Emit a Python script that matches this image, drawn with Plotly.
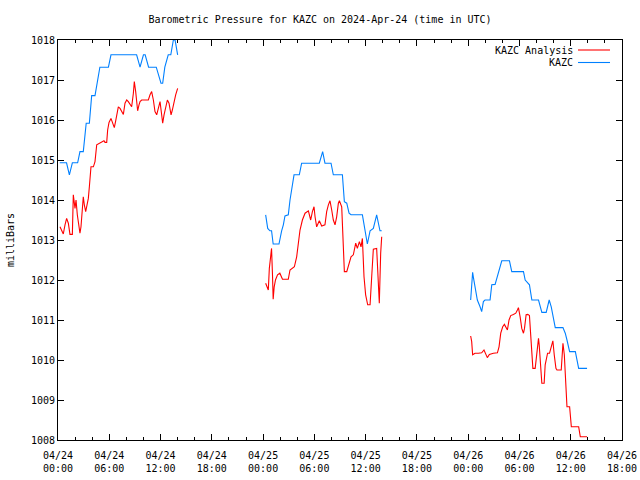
import pandas as pd
import plotly.graph_objects as go

BASE = "2024-04-24 00:00"

# Hours since 2024-04-24 00:00 UTC, pressure in milliBars
kazc_h_1 = [0.2, 1.0, 1.33, 1.68, 2.3, 2.57, 2.96, 3.15, 3.3, 3.67, 3.8, 3.94, 4.33, 4.6, 4.9, 5.9, 6.2,
            9.2, 9.6, 10.0, 10.2, 10.6, 11.5, 12.05, 12.25, 12.5, 12.9, 13.2, 13.5, 13.7, 14.0]
kazc_v_1 = [1014.93, 1014.93, 1014.63, 1014.93, 1014.93, 1015.21, 1015.21, 1015.56, 1015.92, 1015.92,
            1016.27, 1016.61, 1016.61, 1016.96, 1017.32, 1017.32, 1017.63, 1017.63, 1017.32, 1017.63,
            1017.63, 1017.32, 1017.32, 1016.92, 1016.92, 1017.32, 1017.63, 1017.63, 1018.0, 1018.0, 1017.63]

kazc_h_2 = [24.3, 24.54, 24.8, 24.99, 25.18, 25.86, 26.17, 26.37, 26.56, 26.95, 27.15, 27.42, 27.62, 28.24,
            28.51, 30.58, 30.97, 31.24, 31.95, 32.22, 33.28, 33.51, 33.79, 34.06, 34.29, 35.62, 35.93,
            36.2, 36.52, 36.9, 37.29, 37.68, 37.88]
kazc_v_2 = [1013.63, 1013.29, 1013.23, 1013.23, 1012.9, 1012.9, 1013.23, 1013.38, 1013.6, 1013.63,
            1014.0, 1014.33, 1014.63, 1014.63, 1014.92, 1014.92, 1015.21, 1014.92, 1014.92, 1014.63,
            1014.63, 1013.96, 1013.92, 1013.67, 1013.63, 1013.63, 1013.25, 1012.9, 1013.23, 1013.29,
            1013.63, 1013.23, 1013.23]

kazc_h_3 = [48.29, 48.41, 48.52, 48.6, 48.8, 49.07, 49.39, 49.58, 49.78, 49.97, 50.56, 50.76, 51.15,
            51.34, 51.54, 51.73, 51.93, 52.83, 53.1, 54.47, 54.67, 55.17, 55.45, 56.23, 56.42, 56.62,
            57.13, 57.29, 57.48, 57.72, 57.91, 58.19, 59.09, 59.36, 59.56, 59.87, 60.54, 60.73, 60.93, 61.91]
kazc_v_3 = [1011.5, 1012.0, 1012.19, 1012.08, 1011.83, 1011.5, 1011.33, 1011.21, 1011.46, 1011.5,
            1011.5, 1011.88, 1011.89, 1012.04, 1012.19, 1012.38, 1012.48, 1012.48, 1012.21, 1012.21,
            1012.0, 1011.88, 1011.5, 1011.5, 1011.33, 1011.19, 1011.19, 1011.38, 1011.5, 1011.33,
            1011.13, 1010.81, 1010.81, 1010.67, 1010.5, 1010.21, 1010.21, 1010.0, 1009.79, 1009.79]

anl_h_1 = [0.23, 0.43, 0.62, 0.82, 1.01, 1.21, 1.29, 1.40, 1.68, 1.79, 1.99, 2.11, 2.26, 2.46, 2.57,
           2.69, 2.85, 2.96, 3.08, 3.24, 3.35, 3.55, 3.67, 3.86, 4.14, 4.33, 4.53, 4.84, 5.11, 5.38,
           5.5, 5.7, 5.81, 5.97, 6.2, 6.36, 6.59, 6.75, 6.87, 7.06, 7.26, 7.45, 7.65, 7.84, 8.04, 8.23,
           8.43, 8.62, 8.82, 8.93, 9.09, 9.21, 9.32, 9.48, 9.6, 9.79, 10.18, 10.57, 10.77, 10.96, 11.16,
           11.35, 11.55, 11.74, 11.94, 12.13, 12.25, 12.41, 12.6, 12.8, 12.99, 13.23, 13.38, 13.58,
           13.77, 14.0]
anl_v_1 = [1013.33, 1013.21, 1013.15, 1013.38, 1013.54, 1013.42, 1013.21, 1013.14, 1013.14, 1014.13,
           1013.79, 1014.0, 1013.63, 1013.33, 1013.17, 1013.33, 1013.96, 1014.08, 1013.88, 1013.71,
           1013.83, 1014.04, 1014.33, 1014.83, 1014.83, 1014.96, 1015.38, 1015.42, 1015.46, 1015.48,
           1015.44, 1015.44, 1015.75, 1015.94, 1016.04, 1015.92, 1015.81, 1015.98, 1016.17, 1016.33,
           1016.29, 1016.21, 1016.14, 1016.42, 1016.5, 1016.46, 1016.38, 1016.33, 1016.67, 1016.96,
           1016.71, 1016.42, 1016.23, 1016.38, 1016.46, 1016.5, 1016.5, 1016.5, 1016.63, 1016.71,
           1016.5, 1016.21, 1016.13, 1016.29, 1016.46, 1016.13, 1015.92, 1016.13, 1016.33, 1016.5,
           1016.42, 1016.13, 1016.25, 1016.46, 1016.63, 1016.79]

anl_h_2 = [24.3, 24.5, 24.61, 24.73, 24.89, 24.99, 25.1, 25.18, 25.3, 25.45, 25.69, 25.96, 26.27, 26.55,
           26.95, 27.15, 27.42, 27.66, 27.93, 28.13, 28.32, 28.6, 28.91, 29.3, 29.57, 29.77, 29.96,
           30.08, 30.27, 30.58, 30.86, 31.24, 31.44, 31.64, 31.83, 32.03, 32.22, 32.42, 32.61, 32.81,
           32.93, 33.2, 33.4, 33.51, 33.79, 34.06, 34.29, 34.56, 34.84, 35.03, 35.27, 35.46, 35.62,
           35.81, 36.0, 36.24, 36.52, 36.71, 36.9, 37.29, 37.48, 37.6, 37.76, 37.88]
anl_v_2 = [1011.92, 1011.83, 1011.75, 1012.29, 1012.63, 1012.79, 1012.13, 1011.52, 1011.83, 1012.0,
           1012.13, 1012.17, 1012.02, 1012.02, 1012.02, 1012.25, 1012.29, 1012.33, 1012.58, 1012.92,
           1013.25, 1013.5, 1013.67, 1013.73, 1013.5, 1013.71, 1013.83, 1013.58, 1013.33, 1013.48,
           1013.35, 1013.38, 1013.71, 1013.88, 1013.98, 1013.75, 1013.5, 1013.38, 1013.58, 1013.92,
           1013.98, 1013.83, 1012.63, 1012.21, 1012.21, 1012.42, 1012.58, 1012.63, 1012.92, 1012.79,
           1012.96, 1012.83, 1013.04, 1012.08, 1011.63, 1011.38, 1011.38, 1012.08, 1012.77, 1012.79,
           1011.67, 1011.42, 1012.67, 1013.08]

anl_h_3 = [48.29, 48.41, 48.52, 48.8, 49.19, 49.58, 49.85, 50.05, 50.24, 50.48, 50.95, 51.42, 51.61,
           51.81, 52.04, 52.24, 52.43, 52.59, 52.78, 52.98, 53.29, 53.57, 53.76, 53.88, 54.08, 54.27,
           54.47, 54.59, 54.78, 54.98, 55.17, 55.37, 55.57, 55.84, 56.03, 56.23, 56.31, 56.42, 56.62,
           56.89, 57.01, 57.29, 57.52, 57.72, 57.91, 58.07, 58.27, 58.39, 58.89, 59.09, 59.25, 59.36,
           59.48, 59.56, 59.87, 60.07, 60.34, 60.93, 61.12, 61.91]
anl_v_3 = [1010.6, 1010.46, 1010.13, 1010.17, 1010.17, 1010.18, 1010.25, 1010.13, 1010.06, 1010.14,
           1010.17, 1010.18, 1010.33, 1010.67, 1010.83, 1010.89, 1010.83, 1010.75, 1011.0, 1011.11,
           1011.14, 1011.17, 1011.25, 1011.31, 1011.08, 1010.79, 1010.67, 1010.79, 1011.13, 1011.14,
           1011.11, 1010.44, 1009.79, 1009.79, 1010.13, 1010.54, 1010.38, 1009.96, 1009.42, 1009.42,
           1009.88, 1010.17, 1010.17, 1010.33, 1010.48, 1010.13, 1009.79, 1009.75, 1009.75, 1010.42,
           1010.13, 1009.67, 1009.13, 1008.83, 1008.83, 1008.33, 1008.33, 1008.33, 1008.08, 1008.08]

y_ticks = [1008, 1009, 1010, 1011, 1012, 1013, 1014, 1015, 1016, 1017, 1018]
x_range_hours = [0, 66]


def join_segments(hour_lists, value_lists):
    xs, ys = [], []
    for hs, vs in zip(hour_lists, value_lists):
        xs += list(pd.Timestamp(BASE) + pd.to_timedelta(hs, unit="h")) + [None]
        ys += list(vs) + [None]
    return xs, ys


ax, ay = join_segments([anl_h_1, anl_h_2, anl_h_3], [anl_v_1, anl_v_2, anl_v_3])
kx, ky = join_segments([kazc_h_1, kazc_h_2, kazc_h_3], [kazc_v_1, kazc_v_2, kazc_v_3])

RED = "#ff0000"
BLUE = "#0080ff"
FONT = "DejaVu Sans Mono"
FS = 10

fig = go.Figure()
fig.add_trace(go.Scatter(x=ax, y=ay, mode="lines", name="KAZC Analysis",
                         line=dict(color=RED, width=1.1), connectgaps=False, showlegend=False))
fig.add_trace(go.Scatter(x=kx, y=ky, mode="lines", name="KAZC",
                         line=dict(color=BLUE, width=1.1), connectgaps=False, showlegend=False))

x0 = pd.Timestamp(BASE) + pd.Timedelta(hours=x_range_hours[0])
x1 = pd.Timestamp(BASE) + pd.Timedelta(hours=x_range_hours[1])

fig.update_layout(
    width=640, height=480,
    margin=dict(l=58, r=18, t=40, b=40, autoexpand=False),
    paper_bgcolor="white", plot_bgcolor="white",
    font=dict(family=FONT, size=FS, color="black"),
    title=dict(text="Barometric Pressure for KAZC on 2024-Apr-24 (time in UTC)",
               x=0.5, xanchor="center", y=1 - 19 / 480, yanchor="middle",
               font=dict(family=FONT, size=FS, color="black")),
    xaxis=dict(type="date", range=[x0, x1], dtick=6 * 3600 * 1000, tick0=x0, automargin=False,
               tickformat="%m/%d<br>%H:%M", ticks="inside", ticklen=6, tickcolor="black",
               ticklabelstandoff=6,
               showline=True, linecolor="black", linewidth=1, mirror="ticks",
               showgrid=False, zeroline=False,
               minor=dict(dtick=2 * 3600 * 1000, tick0=x0, ticks="inside", ticklen=3,
                          tickcolor="black", showgrid=False),
               tickfont=dict(family=FONT, size=FS)),
    yaxis=dict(range=[y_ticks[0], y_ticks[-1]], tickvals=y_ticks, ticks="inside", ticklen=6,
               automargin=False,
               tickcolor="black", showline=True, linecolor="black", linewidth=1, mirror="ticks",
               showgrid=False, zeroline=False,
               title=dict(text="milliBars", font=dict(family=FONT, size=FS), standoff=14),
               tickfont=dict(family=FONT, size=FS)),
)

# gnuplot-style legend: text right-aligned, line sample to its right
for i, (label, color) in enumerate([("KAZC Analysis", RED), ("KAZC", BLUE)]):
    ypix = 50 + 12.5 * i
    yp = 1 - (ypix - 40) / 400
    fig.add_annotation(x=(575 - 58) / 564, y=yp, xref="paper", yref="paper", text=label,
                       showarrow=False, xanchor="right", yanchor="middle",
                       font=dict(family=FONT, size=FS, color="black"))
    fig.add_shape(type="line", xref="paper", yref="paper",
                  x0=(578 - 58) / 564, x1=(610 - 58) / 564, y0=yp, y1=yp,
                  line=dict(color=color, width=1.1))

fig.write_html("out.html", config={"displayModeBar": False},
               post_script="document.body.style.margin='0';document.body.style.overflow='hidden';")
